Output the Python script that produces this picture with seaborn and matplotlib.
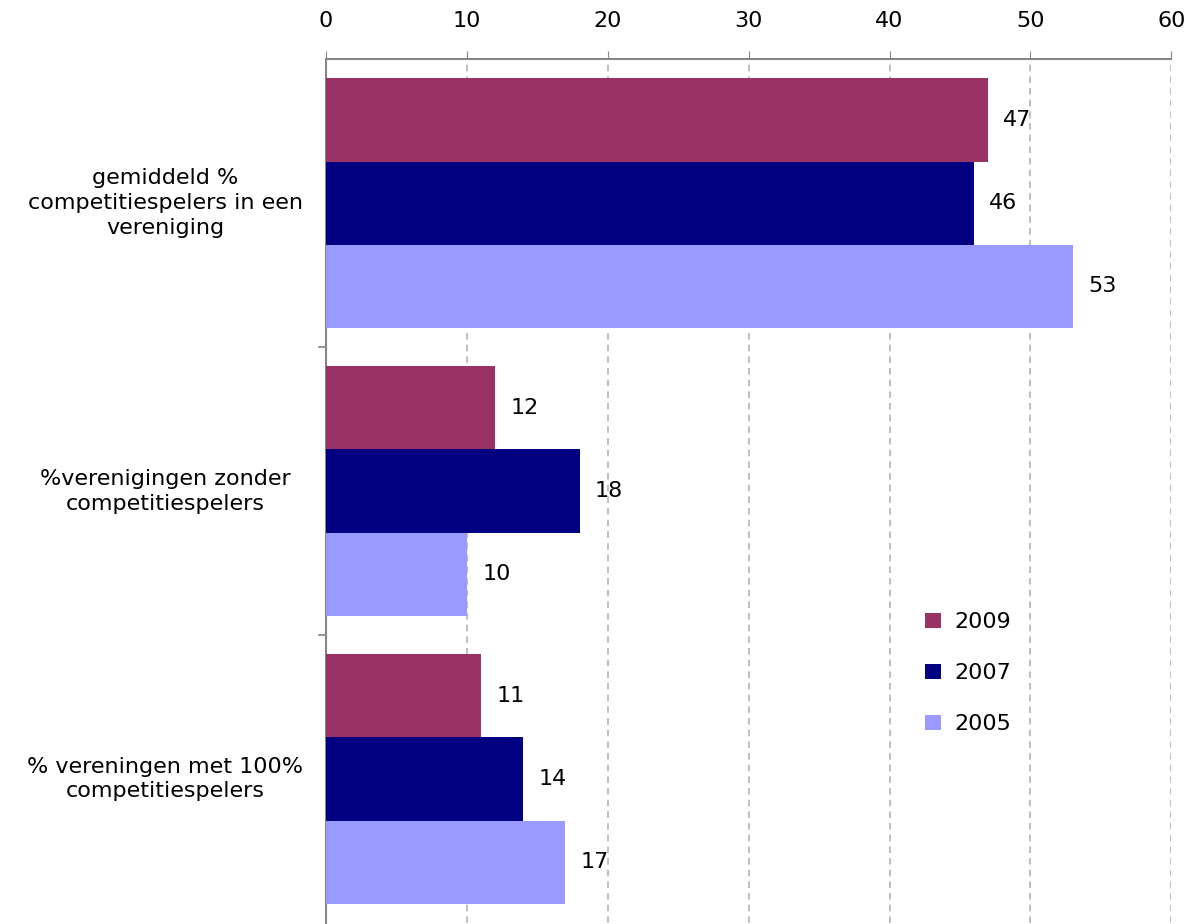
import matplotlib
matplotlib.use("Agg")
import matplotlib.pyplot as plt
import matplotlib.transforms as mtransforms
import seaborn as sns
import pandas as pd

categories = ["gemiddeld %\ncompetitiespelers in een\nvereniging",
              "%verenigingen zonder\ncompetitiespelers",
              "% vereningen met 100%\ncompetitiespelers"]
years = ["2009", "2007", "2005"]
values_2009 = [47, 12, 11]
values_2007 = [46, 18, 14]
values_2005 = [53, 10, 17]
x_ticks = [0, 10, 20, 30, 40, 50, 60]
colors = ["#993366", "#000080", "#9999FF"]

rows = []
for yr, vals in zip(years, [values_2009, values_2007, values_2005]):
    for c, v in zip(categories, vals):
        rows.append({"cat": c, "year": yr, "val": v})
df = pd.DataFrame(rows)

sns.set_style("white")
plt.rcParams["font.family"] = ["DejaVu Sans"]
plt.rcParams["text.color"] = "black"

fig = plt.figure(figsize=(11.94, 9.24), dpi=100)
ax = fig.add_axes([0.273, 0.001, 0.708, 0.935])

sns.barplot(data=df, y="cat", x="val", hue="year", order=categories,
            hue_order=years, palette=colors, orient="h", width=0.867,
            gap=0, saturation=1, linewidth=0, ax=ax, zorder=3)

ax.set_xlim(0, 60)
ax.set_ylim(2.5, -0.5)
ax.set_xticks(x_ticks)
ax.xaxis.tick_top()
ax.xaxis.set_label_position("top")
ax.set_xlabel("")
ax.set_ylabel("")
ax.grid(axis="x", color="#b4b4b4", linestyle=(0, (4, 3)), linewidth=1.2, zorder=0)
ax.set_axisbelow(True)

for s in ["right", "bottom"]:
    ax.spines[s].set_visible(False)
for s in ["top", "left"]:
    ax.spines[s].set_color("#868686")
    ax.spines[s].set_linewidth(1.5)

ax.tick_params(axis="x", which="major", top=True, direction="out", length=6,
               color="#868686", labelsize=16, pad=14, labelcolor="black")
ax.set_yticks([0, 1, 2])
ax.set_yticklabels([])
ax.tick_params(axis="y", which="major", length=0)
ax.set_yticks([0.5, 1.5], minor=True)
ax.tick_params(axis="y", which="minor", left=True, length=6, color="#868686", width=1.2)

trans = mtransforms.blended_transform_factory(ax.transAxes, ax.transData)
for i, cat in enumerate(categories):
    ax.text(-0.19, i, cat, transform=trans, ha="center", va="center",
            multialignment="center", fontsize=16, color="black", linespacing=1.3)

for cont in ax.containers:
    ax.bar_label(cont, fmt="%d", padding=11, fontsize=16, color="black")

leg = ax.legend(loc="upper left", bbox_to_anchor=(0.685, 0.383), frameon=False,
                fontsize=16, handlelength=0.7, handleheight=0.7,
                handletextpad=0.6, labelspacing=1.4)

fig.savefig("out.png", dpi=100)
